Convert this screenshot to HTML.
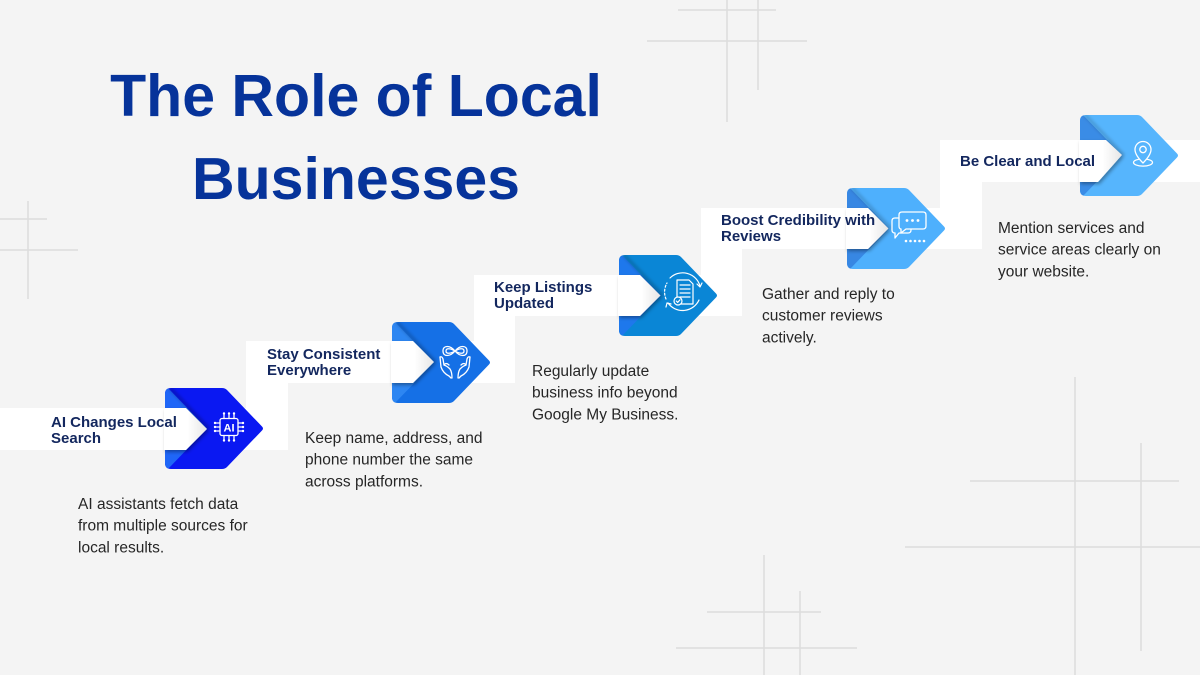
<!DOCTYPE html>
<html>
<head>
<meta charset="utf-8">
<style>
  html,body{margin:0;padding:0;}
  body{width:1200px;height:675px;background:#f4f4f4;overflow:hidden;}
  svg{display:block;}
  .t{font-family:"Liberation Sans",Arial,sans-serif;}
</style>
</head>
<body>
<svg width="1200" height="675" viewBox="0 0 1200 675" xmlns="http://www.w3.org/2000/svg">
  <defs>
    <path id="ash" d="M6,0 H57 Q60,0 62,2 L97,38.5 Q99,40.5 97,42.5 L62,79 Q60,81 57,81 H6 Q0,81 0,75 V6 Q0,0 6,0 Z"/>
    <clipPath id="cl"><use href="#ash"/></clipPath>
    <filter id="ds" x="-50%" y="-50%" width="200%" height="200%">
      <feDropShadow dx="1.5" dy="2" stdDeviation="1.8" flood-color="#000" flood-opacity="0.35"/>
    </filter>
    <filter id="bl" x="-50%" y="-50%" width="200%" height="200%">
      <feGaussianBlur stdDeviation="1.6"/>
    </filter>
    <linearGradient id="tipg" x1="0" y1="0" x2="1" y2="0">
      <stop offset="0" stop-color="#ffffff"/>
      <stop offset="0.55" stop-color="#ffffff"/>
      <stop offset="1" stop-color="#e6e6e6"/>
    </linearGradient>
  </defs>

  <!-- decorative grey lines -->
  <g stroke="#dcdcdc" stroke-width="1.5" fill="none">
    <line x1="678" y1="10" x2="776" y2="10"/>
    <line x1="647" y1="41" x2="807" y2="41"/>
    <line x1="727" y1="0" x2="727" y2="122"/>
    <line x1="758" y1="0" x2="758" y2="90"/>
    <line x1="0" y1="219" x2="47" y2="219"/>
    <line x1="0" y1="250" x2="78" y2="250"/>
    <line x1="28" y1="201" x2="28" y2="299"/>
    <line x1="1075" y1="377" x2="1075" y2="675"/>
    <line x1="1141" y1="443" x2="1141" y2="651"/>
    <line x1="970" y1="481" x2="1179" y2="481"/>
    <line x1="905" y1="547" x2="1200" y2="547"/>
    <line x1="764" y1="555" x2="764" y2="675"/>
    <line x1="800" y1="591" x2="800" y2="675"/>
    <line x1="707" y1="612" x2="821" y2="612"/>
    <line x1="676" y1="648" x2="857" y2="648"/>
  </g>

  <!-- title -->
  <g class="t" font-weight="bold" font-size="59" fill="#06339a" text-anchor="middle">
    <text x="356" y="116">The Role of Local</text>
    <text x="356" y="199">Businesses</text>
  </g>

  <!-- white staircase bands -->
  <g fill="#ffffff">
    <rect x="0" y="408" width="288" height="42"/>
    <rect x="246" y="341" width="42" height="109"/>
    <rect x="246" y="341" width="269" height="42"/>
    <rect x="474" y="275" width="41" height="108"/>
    <rect x="474" y="275" width="268" height="41"/>
    <rect x="701" y="208" width="41" height="108"/>
    <rect x="701" y="208" width="281" height="41"/>
    <rect x="940" y="140" width="42" height="109"/>
    <rect x="940" y="140" width="260" height="42"/>
  </g>

  <!-- Arrow 1 -->
  <g transform="translate(165,388)">
    <use href="#ash" fill="#0a18f2"/>
    <g clip-path="url(#cl)">
      <polygon points="0,0 3,0 42,40.5 0,40.5" fill="#1f66f7"/>
      <polygon points="0,40.5 42,40.5 3,81 0,81" fill="#1f66f7"/>
      <line x1="5" y1="0" x2="44" y2="40.5" stroke="#000" stroke-opacity="0.25" stroke-width="3" filter="url(#bl)"/>
    </g>
    <polygon points="-1,20 21,20 42,41 21,62 -1,62" fill="url(#tipg)" filter="url(#ds)"/>
  </g>
  <!-- Arrow 2 -->
  <g transform="translate(392,322)">
    <use href="#ash" fill="#1570e6"/>
    <g clip-path="url(#cl)">
      <polygon points="0,0 3,0 42,40.5 0,40.5" fill="#2d86f2"/>
      <polygon points="0,40.5 42,40.5 3,81 0,81" fill="#2d86f2"/>
      <line x1="5" y1="0" x2="44" y2="40.5" stroke="#000" stroke-opacity="0.22" stroke-width="3" filter="url(#bl)"/>
    </g>
    <polygon points="-1,19 21,19 42,40 21,61 -1,61" fill="url(#tipg)" filter="url(#ds)"/>
  </g>
  <!-- Arrow 3 -->
  <g transform="translate(619,255)">
    <use href="#ash" fill="#0a86d6"/>
    <g clip-path="url(#cl)">
      <polygon points="0,0 3,0 42,40.5 0,40.5" fill="#1e78ec"/>
      <polygon points="0,40.5 42,40.5 3,81 0,81" fill="#1e78ec"/>
      <line x1="5" y1="0" x2="44" y2="40.5" stroke="#000" stroke-opacity="0.22" stroke-width="3" filter="url(#bl)"/>
    </g>
    <polygon points="-1,20 21,20 41.5,40.5 21,61 -1,61" fill="url(#tipg)" filter="url(#ds)"/>
  </g>
  <!-- Arrow 4 -->
  <g transform="translate(847,188)">
    <use href="#ash" fill="#4eb0fd"/>
    <g clip-path="url(#cl)">
      <polygon points="0,0 3,0 42,40.5 0,40.5" fill="#3787e3"/>
      <polygon points="0,40.5 42,40.5 3,81 0,81" fill="#3787e3"/>
      <line x1="5" y1="0" x2="44" y2="40.5" stroke="#000" stroke-opacity="0.18" stroke-width="3" filter="url(#bl)"/>
    </g>
    <polygon points="-1,20 21,20 41.5,40.5 21,61 -1,61" fill="url(#tipg)" filter="url(#ds)"/>
  </g>
  <!-- Arrow 5 -->
  <g transform="translate(1080,115)">
    <use href="#ash" fill="#56b5fd"/>
    <g clip-path="url(#cl)">
      <polygon points="0,0 3,0 42,40.5 0,40.5" fill="#3a8ce6"/>
      <polygon points="0,40.5 42,40.5 3,81 0,81" fill="#3a8ce6"/>
      <line x1="5" y1="0" x2="44" y2="40.5" stroke="#000" stroke-opacity="0.18" stroke-width="3" filter="url(#bl)"/>
    </g>
    <polygon points="-1,25 26,25 42,40 18,67 -1,67" fill="url(#tipg)" filter="url(#ds)"/>
  </g>

  <!-- Icon 1: AI chip -->
  <g stroke="#ffffff" stroke-width="1.3" fill="none" stroke-linecap="round">
    <rect x="220" y="418.5" width="18" height="17" rx="2"/>
    <line x1="224" y1="414.5" x2="224" y2="418.5"/><line x1="229" y1="414.5" x2="229" y2="418.5"/><line x1="234" y1="414.5" x2="234" y2="418.5"/>
    <line x1="224" y1="435.5" x2="224" y2="439.5"/><line x1="229" y1="435.5" x2="229" y2="439.5"/><line x1="234" y1="435.5" x2="234" y2="439.5"/>
    <line x1="216" y1="423" x2="220" y2="423"/><line x1="216" y1="427" x2="220" y2="427"/><line x1="216" y1="431" x2="220" y2="431"/>
    <line x1="238" y1="423" x2="242" y2="423"/><line x1="238" y1="427" x2="242" y2="427"/><line x1="238" y1="431" x2="242" y2="431"/>
  </g>
  <g fill="#ffffff">
    <circle cx="224" cy="413.5" r="1.2"/><circle cx="229" cy="413.5" r="1.2"/><circle cx="234" cy="413.5" r="1.2"/>
    <circle cx="224" cy="440.5" r="1.2"/><circle cx="229" cy="440.5" r="1.2"/><circle cx="234" cy="440.5" r="1.2"/>
    <circle cx="243" cy="423" r="1.2"/><circle cx="243" cy="427" r="1.2"/><circle cx="243" cy="431" r="1.2"/>
    <circle cx="215" cy="423" r="1.2"/><circle cx="215" cy="427" r="1.2"/><circle cx="215" cy="431" r="1.2"/>
    <text x="229" y="431.5" class="t" font-weight="bold" font-size="11" text-anchor="middle">AI</text>
  </g>

  <!-- Icon 2: hands + infinity -->
  <g stroke="#ffffff" stroke-width="1.3" fill="none" stroke-linecap="round" stroke-linejoin="round">
    <path d="M443,351 C443,345 450,345 455,351 C460,357 467,357 467,351 C467,345 460,345 455,351 C450,357 443,357 443,351 Z"/>
    <path d="M446,351 C446,348 450,348 455,351 C460,354 464,354 464,351 C464,348 460,348 455,351 C450,354 446,354 446,351 Z"/>
    <path d="M440,357 L441,367 Q443,373 449,376 L451,378"/>
    <path d="M440,357 Q442,356 443,359 L444,365 Q447,366 450,369 Q452,372 452,378"/>
    <path d="M444,365 Q446,362 449,365"/>
    <path d="M470,357 L469,367 Q467,373 461,376 L459,378"/>
    <path d="M470,357 Q468,356 467,359 L466,365 Q463,366 460,369 Q458,372 458,378"/>
    <path d="M466,365 Q464,362 461,365"/>
  </g>

  <!-- Icon 3: document with arrows -->
  <g stroke="#ffffff" stroke-width="1.2" fill="none" stroke-linecap="round" stroke-linejoin="round">
    <path d="M670,278 A18,18 0 0 1 700,286"/>
    <path d="M697,284 L700,287 L702,283"/>
    <path d="M699,300 A18,18 0 0 1 668,303"/>
    <path d="M666,299 A18,18 0 0 1 667,283" stroke-dasharray="2 2"/>
    <path d="M671,304 L667,303 L666,307"/>
    <path d="M677,280 H689 L693,284 V304 H677 Z"/>
    <line x1="680" y1="285" x2="690" y2="285"/>
    <line x1="680" y1="289" x2="690" y2="289"/>
    <line x1="680" y1="293" x2="690" y2="293"/>
    <line x1="680" y1="297" x2="690" y2="297"/>
    <circle cx="678" cy="301" r="4" fill="#0a86d6"/>
    <path d="M676.3,301 L677.7,302.4 L680,299.8"/>
  </g>

  <!-- Icon 4: chat bubbles -->
  <g stroke="#ffffff" stroke-width="1.3" fill="none" stroke-linecap="round" stroke-linejoin="round">
    <path d="M895,218 H908 Q911,218 911,221 V230 Q911,233 908,233 H899 L895,238 V233 Q892,233 892,230 V221 Q892,218 895,218 Z"/>
    <path d="M902,212 H923 Q926,212 926,215 V226 Q926,229 923,229 H906 L901,233 V229 Q899,229 899,226 V215 Q899,212 902,212 Z" fill="#4eb0fd"/>
  </g>
  <g fill="#ffffff">
    <circle cx="907" cy="220.5" r="1.4"/><circle cx="912.5" cy="220.5" r="1.4"/><circle cx="918" cy="220.5" r="1.4"/>
    <circle cx="906" cy="241" r="1.3"/><circle cx="910.5" cy="241" r="1.3"/><circle cx="915" cy="241" r="1.3"/><circle cx="919.5" cy="241" r="1.3"/><circle cx="924" cy="241" r="1.3"/>
  </g>

  <!-- Icon 5: location pin -->
  <g stroke="#ffffff" stroke-width="1.3" fill="none" stroke-linecap="round" stroke-linejoin="round">
    <ellipse cx="1143" cy="162.5" rx="9.5" ry="3.6"/>
    <path d="M1143,163 C1137,157 1135,153 1135,149.5 A8,8 0 0 1 1151,149.5 C1151,153 1149,157 1143,163 Z" fill="#56b5fd"/>
    <circle cx="1143" cy="149.5" r="3.2"/>
  </g>

  <!-- step labels -->
  <g class="t" font-weight="bold" font-size="15" fill="#13275e">
    <text x="51" y="427">AI Changes Local</text>
    <text x="51" y="443">Search</text>
    <text x="267" y="359">Stay Consistent</text>
    <text x="267" y="375">Everywhere</text>
    <text x="494" y="292">Keep Listings</text>
    <text x="494" y="308">Updated</text>
    <text x="721" y="225">Boost Credibility with</text>
    <text x="721" y="241">Reviews</text>
    <text x="960" y="166">Be Clear and Local</text>
  </g>

  <!-- descriptions -->
  <g class="t" font-size="15.5" fill="#262626">
    <text x="78" y="509">AI assistants fetch data</text>
    <text x="78" y="530.7">from multiple sources for</text>
    <text x="78" y="552.4">local results.</text>

    <text x="305" y="443">Keep name, address, and</text>
    <text x="305" y="464.7">phone number the same</text>
    <text x="305" y="486.4">across platforms.</text>

    <text x="532" y="376">Regularly update</text>
    <text x="532" y="397.7">business info beyond</text>
    <text x="532" y="419.4">Google My Business.</text>

    <text x="762" y="299">Gather and reply to</text>
    <text x="762" y="320.7">customer reviews</text>
    <text x="762" y="342.4">actively.</text>

    <text x="998" y="233">Mention services and</text>
    <text x="998" y="254.7">service areas clearly on</text>
    <text x="998" y="276.4">your website.</text>
  </g>
</svg>
</body>
</html>
